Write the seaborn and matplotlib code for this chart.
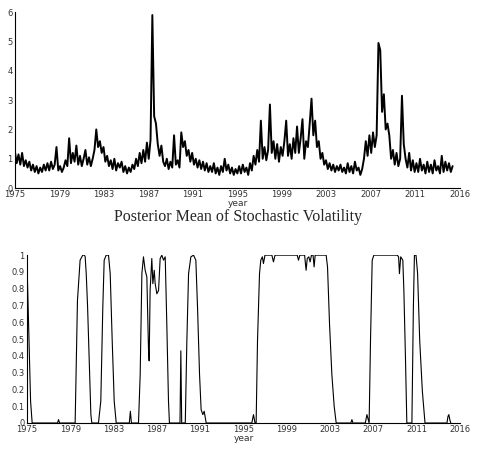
import numpy as np
import pandas as pd
import seaborn as sns
from matplotlib import pyplot as plt

# posterior mean of stochastic volatility, six readings per year from 1975
vol_values = [
    1.25, 0.85, 1.15, 0.80, 1.20, 0.75,  # 1975
    0.95, 0.70, 0.90, 0.60, 0.80, 0.55,  # 1976
    0.75, 0.50, 0.70, 0.55, 0.80, 0.60,  # 1977
    0.85, 0.60, 0.90, 0.65, 0.80, 1.40,  # 1978
    0.60, 0.75, 0.55, 0.70, 0.95, 0.75,  # 1979
    1.70, 0.85, 1.20, 0.90, 1.45, 0.80,  # 1980
    1.10, 0.75, 1.00, 1.30, 0.80, 1.05,  # 1981
    0.75, 1.00, 1.30, 2.00, 1.40, 1.60,  # 1982
    1.20, 1.40, 0.90, 1.10, 0.75, 0.95,  # 1983
    0.65, 1.00, 0.60, 0.85, 0.70, 0.90,  # 1984
    0.55, 0.75, 0.50, 0.70, 0.55, 0.80,  # 1985
    0.65, 1.00, 0.75, 1.20, 0.85, 1.30,  # 1986
    0.90, 1.55, 1.00, 1.65, 5.90, 2.45,  # 1987
    2.20, 1.50, 1.10, 1.45, 0.90, 0.75,  # 1988
    1.00, 0.65, 0.90, 0.70, 1.80, 0.80,  # 1989
    0.95, 0.70, 1.90, 1.40, 1.60, 1.10,  # 1990
    1.30, 0.90, 1.20, 0.80, 1.00, 0.70,  # 1991
    0.95, 0.65, 0.90, 0.60, 0.85, 0.55,  # 1992
    0.75, 0.55, 0.85, 0.50, 0.70, 0.45,  # 1993
    0.75, 0.55, 1.00, 0.60, 0.80, 0.50,  # 1994
    0.70, 0.45, 0.65, 0.50, 0.75, 0.50,  # 1995
    0.80, 0.55, 0.70, 0.45, 0.85, 0.60,  # 1996
    1.10, 0.80, 1.30, 0.90, 2.30, 1.00,  # 1997
    1.40, 0.95, 1.30, 2.85, 1.20, 1.60,  # 1998
    1.00, 1.50, 0.90, 1.40, 1.10, 1.60,  # 1999
    2.30, 1.10, 1.50, 1.00, 1.70, 1.20,  # 2000
    2.10, 1.20, 1.70, 2.35, 1.00, 1.60,  # 2001
    1.40, 2.20, 3.05, 1.80, 2.30, 1.40,  # 2002
    1.60, 1.00, 1.20, 0.80, 0.95, 0.65,  # 2003
    0.85, 0.60, 0.80, 0.55, 0.75, 0.60,  # 2004
    0.80, 0.55, 0.70, 0.50, 0.85, 0.55,  # 2005
    0.75, 0.50, 0.90, 0.60, 0.70, 0.45,  # 2006
    0.65, 1.00, 1.60, 1.10, 1.80, 1.20,  # 2007
    1.90, 1.40, 1.80, 4.95, 4.70, 2.60,  # 2008
    3.20, 2.00, 2.20, 1.80, 1.00, 1.30,  # 2009
    0.80, 1.20, 0.75, 1.00, 3.15, 1.50,  # 2010
    1.00, 0.70, 1.20, 0.60, 0.95, 0.55,  # 2011
    0.85, 0.55, 1.00, 0.60, 0.80, 0.50,  # 2012
    0.90, 0.55, 0.80, 0.50, 0.95, 0.60,  # 2013
    0.75, 0.50, 1.10, 0.55, 0.90, 0.60,  # 2014
    0.85, 0.55, 0.75,                    # 2015
]
vol_year = 1975 + np.arange(len(vol_values)) / 6

# regime probability read at its turning points
regime_year = [
    1975.0, 1975.05, 1975.2, 1975.35, 1975.5, 1977.9, 1978.0, 1978.1,
    # 1980 episode
    1979.57, 1979.79, 1980.04, 1980.29, 1980.45, 1980.52, 1980.62, 1980.75, 1980.93, 1981.06, 1981.15,
    # 1982 episode
    1981.78, 1982.0, 1982.19, 1982.32, 1982.51, 1982.73, 1982.89, 1983.08, 1983.27, 1983.46,
    1984.7, 1984.8, 1984.9,
    # 1986-88 episode
    1985.57, 1985.73, 1985.89, 1986.04, 1986.2, 1986.36, 1986.52, 1986.58, 1986.67, 1986.83,
    1986.93, 1987.06, 1987.15, 1987.31, 1987.47, 1987.62, 1987.78, 1987.94, 1988.1, 1988.25,
    1988.41, 1988.5,
    1989.5, 1989.58, 1989.66,
    # 1990-91 episode
    1990.0, 1990.15, 1990.31, 1990.53, 1990.78, 1991.0, 1991.16, 1991.35, 1991.5, 1991.66,
    1991.79, 1991.98,
    # 1997-2003 episode
    1996.3, 1996.46, 1996.6, 1996.71, 1996.84, 1997.03, 1997.15, 1997.3, 1997.4, 1997.55,
    1998.2, 1998.35, 1998.5, 2000.6, 2000.72, 2000.85, 2001.3, 2001.44, 2001.55, 2001.7,
    2001.82, 2001.95, 2002.1, 2002.2, 2002.3, 2003.34, 2003.47, 2003.66, 2003.88, 2004.1,
    2004.29,
    2005.68, 2005.78, 2005.88,
    # 2007-10 episode
    2007.05, 2007.2, 2007.41, 2007.54, 2007.7, 2007.86, 2010.07, 2010.2, 2010.28, 2010.4,
    2010.6, 2010.7, 2010.85, 2010.98,
    # 2011-12 episode
    2011.46, 2011.6, 2011.7, 2011.85, 2012.0, 2012.2, 2012.45, 2012.7,
    2014.78, 2014.88, 2014.96, 2015.05, 2015.14,
]
regime_prob = [
    0.96, 0.86, 0.49, 0.13, 0.0, 0.0, 0.02, 0.0,
    0.0, 0.73, 0.97, 1.0, 1.0, 0.99, 0.89, 0.69, 0.33, 0.05, 0.0,
    0.0, 0.13, 0.69, 0.97, 1.0, 1.0, 0.89, 0.49, 0.13, 0.0,
    0.0, 0.07, 0.0,
    0.0, 0.29, 0.89, 0.99, 0.91, 0.87, 0.43, 0.37, 0.79, 0.98,
    0.83, 0.91, 0.83, 0.77, 0.79, 0.98, 1.0, 0.97, 0.99, 0.59,
    0.13, 0.0,
    0.0, 0.43, 0.0,
    0.0, 0.49, 0.89, 0.99, 1.0, 0.97, 0.69, 0.29, 0.08, 0.05,
    0.07, 0.0,
    0.0, 0.05, 0.0, 0.0, 0.49, 0.89, 0.97, 0.99, 0.95, 1.0,
    1.0, 0.96, 1.0, 1.0, 0.97, 1.0, 1.0, 0.91, 0.98, 0.99,
    0.96, 1.0, 1.0, 0.93, 1.0, 1.0, 0.93, 0.59, 0.29, 0.10,
    0.0,
    0.0, 0.02, 0.0,
    0.0, 0.05, 0.0, 0.49, 0.97, 1.0, 1.0, 0.99, 0.89, 0.99,
    0.97, 0.79, 0.39, 0.0,
    0.0, 0.69, 1.0, 1.0, 0.89, 0.49, 0.19, 0.0,
    0.0, 0.04, 0.05, 0.02, 0.0,
]

year_ticks = np.linspace(1975, 2016, 11)
year_labels = ["1975", "1979", "1983", "1987", "1991", "1995",
               "1999", "2003", "2007", "2011", "2016"]

vol_df = pd.DataFrame({"year": vol_year, "vol": vol_values})
regime_df = pd.DataFrame({"year": regime_year, "prob": regime_prob})

sns.set_style("white")
plt.rcParams["font.family"] = ["DejaVu Sans"]

fig = plt.figure(figsize=(4.8, 4.5), dpi=100)
ax1 = fig.add_axes([0.031, 0.582, 0.927, 0.391])
ax2 = fig.add_axes([0.056, 0.06, 0.902, 0.373])

sns.lineplot(data=vol_df, x="year", y="vol", ax=ax1, color="black", linewidth=1.4)
sns.lineplot(data=regime_df, x="year", y="prob", ax=ax2, color="black", linewidth=0.8)

ax1.set_ylim(0, 6)
ax1.set_yticks(range(0, 7))
ax2.set_ylim(0, 1)
ax2.set_yticks(np.arange(0, 1.01, 0.1))
ax2.set_yticklabels(["0", "0.1", "0.2", "0.3", "0.4", "0.5", "0.6", "0.7", "0.8", "0.9", "1"])

for ax in (ax1, ax2):
    ax.set_xlim(1975, 2016)
    ax.set_xticks(year_ticks)
    ax.set_xticklabels(year_labels)
    ax.set_xlabel("year", fontsize=6.5, labelpad=0, color="#333333")
    ax.set_ylabel("")
    sns.despine(ax=ax)
    for s in ("left", "bottom"):
        ax.spines[s].set_color("black")
        ax.spines[s].set_linewidth(0.8)
    ax.tick_params(direction="in", length=3, width=0.6, labelsize=6,
                   pad=1.5, colors="black", labelcolor="#333333")

fig.text(0.495, 0.518, "Posterior Mean of Stochastic Volatility",
         ha="center", va="center", fontsize=11.5, family="Liberation Serif")

fig.savefig("out.png", dpi=100)
